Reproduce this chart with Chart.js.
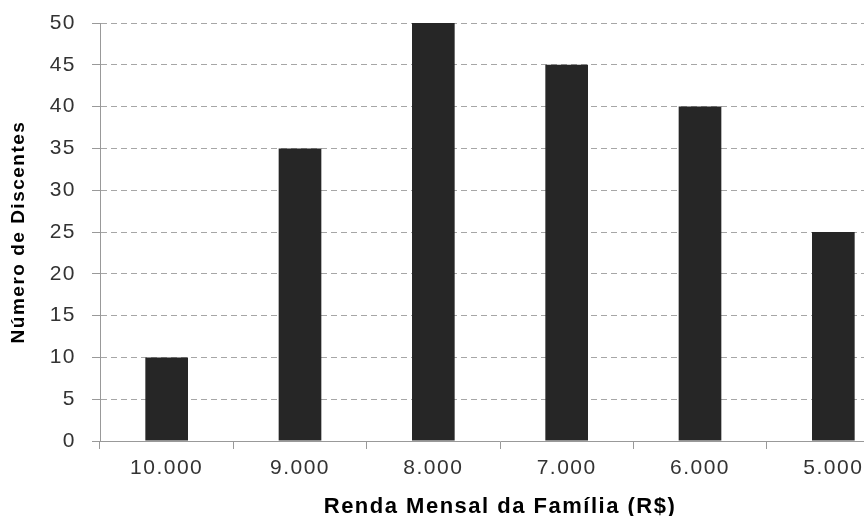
<!DOCTYPE html>
<html>
<head>
<meta charset="utf-8">
<script src="https://cdn.jsdelivr.net/npm/chart.js@4.4.0/dist/chart.umd.min.js"></script>
<style>
  html, body { margin: 0; padding: 0; background: #fff; overflow: hidden; }
  #wrap { width: 904px; height: 516px; }
</style>
</head>
<body>
<div id="wrap"><canvas id="chart" width="904" height="516"></canvas></div>
<script>
const categories = ['10.000', '9.000', '8.000', '7.000', '6.000', '5.000'];
const discentes = [10, 35, 50, 45, 40, 25];
const yMin = 0;
const yMax = 50;
const yStep = 5;

const FONT = "'Liberation Sans', Arial, sans-serif";

// Excel-like wide letter spacing
const spacingPlugin = {
  id: 'spacing',
  beforeInit(chart) { chart.ctx.letterSpacing = '1.5px'; },
  beforeDraw(chart) { chart.ctx.letterSpacing = '1.5px'; }
};

new Chart(document.getElementById('chart'), {
  type: 'bar',
  data: {
    labels: categories,
    datasets: [{
      data: discentes,
      backgroundColor: '#262626',
      barPercentage: 0.32,
      categoryPercentage: 1
    }]
  },
  options: {
    responsive: false,
    animation: false,
    layout: { padding: { top: 23, right: 4, left: 0, bottom: 0 } },
    plugins: {
      legend: { display: false },
      tooltip: { enabled: false }
    },
    scales: {
      x: {
        grid: { offset: true, drawOnChartArea: false, tickLength: 8, tickColor: '#999' },
        border: { color: '#999' },
        ticks: { color: '#333', padding: 7, font: { family: FONT, size: 21 } },
        title: {
          display: true,
          text: 'Renda Mensal da Família (R$)',
          color: '#000',
          font: { family: FONT, size: 22, weight: 'bold', lineHeight: 1 },
          padding: { top: 0, bottom: -2 }
        },
        afterFit(s) { s.height = 75; s.paddingLeft = 0; s.paddingRight = 0; }
      },
      y: {
        min: yMin,
        max: yMax,
        ticks: { stepSize: yStep, color: '#333', padding: 16, font: { family: FONT, size: 21 } },
        grid: { color: '#a6a6a6', tickColor: '#999', tickLength: 8 },
        border: { color: '#999', dash: [6, 4] },
        title: {
          display: true,
          text: 'Número de Discentes',
          color: '#000',
          font: { family: FONT, size: 19, weight: 'bold', lineHeight: 1 },
          padding: { top: 9, bottom: 0 }
        },
        afterFit(s) { s.width = 100; s.paddingTop = 0; s.paddingBottom = 0; }
      }
    }
  },
  plugins: [spacingPlugin]
});
</script>
</body>
</html>
